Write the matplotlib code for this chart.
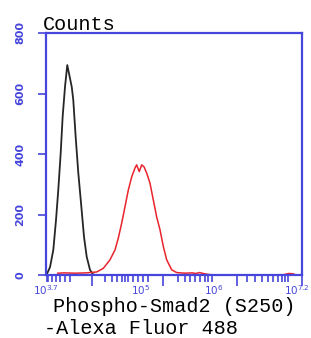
import matplotlib
matplotlib.use("Agg")
import matplotlib.pyplot as plt

# log10 intensity / counts
black_x = [3.70, 3.71, 3.755, 3.80, 3.837, 3.868, 3.901, 3.928, 3.96, 3.991,
           4.02, 4.052, 4.073, 4.106, 4.142, 4.179, 4.22, 4.257, 4.302, 4.343, 4.38]
black_y = [0, 2, 26, 83, 182, 281, 403, 524, 622, 694,
           660, 622, 579, 456, 337, 238, 126, 60, 17, 2, 0]

red_x = [3.86, 3.95, 4.10, 4.25, 4.393, 4.484, 4.575, 4.644, 4.689, 4.736, 4.78,
         4.826, 4.872, 4.918, 4.94, 4.976, 5.009, 5.04, 5.077, 5.122, 5.168,
         5.214, 5.26, 5.305, 5.351, 5.42, 5.488, 5.60, 5.70, 5.75, 5.80, 5.87,
         5.95, 6.2, 6.6, 6.95, 7.02, 7.08, 7.12]
red_y = [6, 7, 6, 7, 10, 22, 50, 83, 122, 172, 225,
         281, 324, 354, 364, 342, 364, 358, 337, 304, 248,
         192, 149, 94, 50, 17, 8, 6, 7, 5, 8, 4,
         1, 0, 0, 1, 5, 4, 0]

y_ticks = [0, 200, 400, 600, 800]
x_label_pos = [3.7, 5, 6, 7.2]
x_label_txt = [r"$10^{3.7}$", r"$10^{5}$", r"$10^{6}$", r"$10^{7.2}$"]
major_pos = [4.329, 5.30, 6.313, 7.202]
minor_pos = [3.714, 3.727, 3.782, 3.837, 3.892, 3.96, 4.028,
             4.507, 4.603, 4.671, 4.74, 4.781, 4.822, 4.89, 4.959, 5.027, 5.095,
             5.506, 5.601, 5.67, 5.738, 5.807, 5.875, 5.916, 5.971,
             6.45, 6.559, 6.655, 6.737, 6.805, 6.874, 6.928, 6.97, 7.01]

blue = "#4646dc"

fig = plt.figure(figsize=(3.11, 3.38), dpi=100)
ax = fig.add_axes([46/311, 1-275/338, 256/311, 242/338])

ax.plot(black_x, black_y, color="#262626", lw=1.3)
ax.plot(red_x, red_y, color="#e8242c", lw=1.1)

ax.set_xlim(3.7, 7.2)
ax.set_ylim(0, 800)

for s in ax.spines.values():
    s.set_color(blue)
    s.set_linewidth(1.6)

ax.set_yticks(y_ticks)
ax.set_yticklabels([str(v) for v in y_ticks], rotation=90, va="center",
                   fontsize=8, fontweight="bold", color=blue)
ax.tick_params(axis="y", colors=blue, length=6, width=1.2, pad=9, labelcolor=blue)

ax.set_xticks(major_pos)
ax.set_xticklabels([])
ax.set_xticks(minor_pos, minor=True)
ax.tick_params(axis="x", which="major", colors=blue, length=8, width=1.2)
ax.tick_params(axis="x", which="minor", colors=blue, length=5, width=1.2)

for i, (p, t) in enumerate(zip(x_label_pos, x_label_txt)):
    ha = "center"
    if i == len(x_label_pos) - 1:
        p, ha = 7.31, "right"
    ax.text(p, -0.035, t, transform=ax.get_xaxis_transform(), ha=ha, va="top",
            fontsize=7.5, color=blue, style="italic", fontweight="bold",
            family="DejaVu Serif", clip_on=False)

fig.text(43/311, 1-30/338, "Counts", fontsize=14.5, family="Liberation Mono",
         va="baseline", ha="left")
fig.text(53/311, 1-312/338, "Phospho-Smad2 (S250)", fontsize=14.5,
         family="Liberation Mono", va="baseline", ha="left")
fig.text(44/311, 1-334/338, "-Alexa Fluor 488", fontsize=14.5,
         family="Liberation Mono", va="baseline", ha="left")

fig.savefig("out.png", dpi=100)
